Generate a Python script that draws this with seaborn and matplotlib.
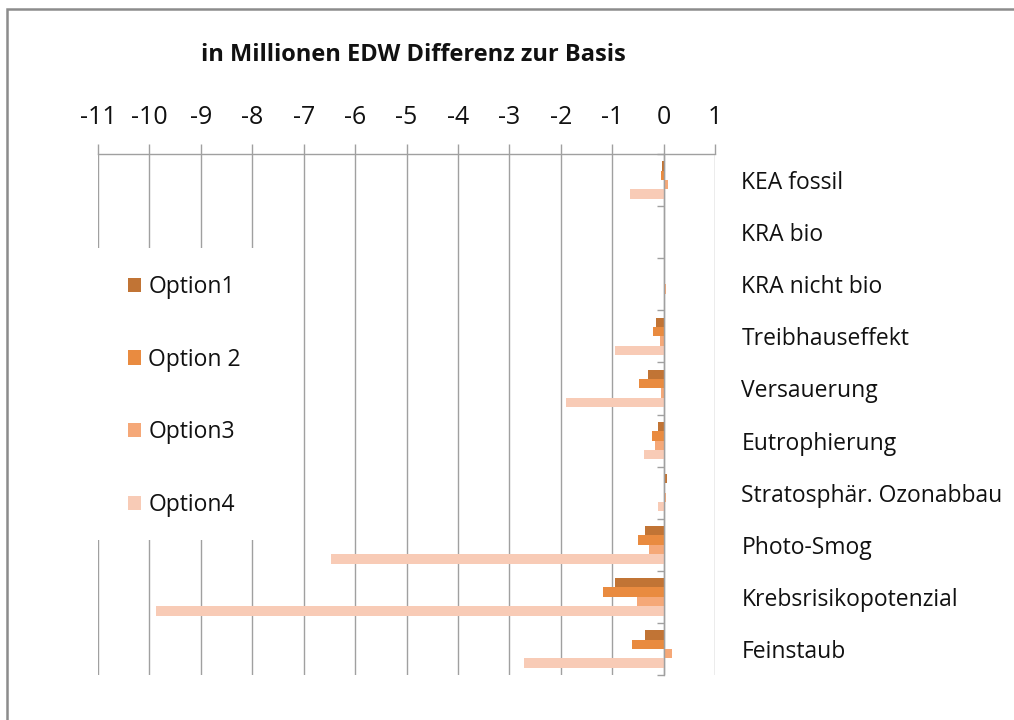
import numpy as np
import pandas as pd
import matplotlib
matplotlib.use("Agg")
import matplotlib.pyplot as plt
from matplotlib.patches import Rectangle
import seaborn as sns

categories = ["KEA fossil", "KRA bio", "KRA nicht bio", "Treibhauseffekt", "Versauerung",
              "Eutrophierung", "Stratosphär. Ozonabbau", "Photo-Smog",
              "Krebsrisikopotenzial", "Feinstaub"]
option_names = ["Option1", "Option 2", "Option3", "Option4"]
opt1 = [-0.03, 0.0, 0.0, -0.14, -0.31, -0.10, 0.06, -0.37, -0.94, -0.37]
opt2 = [-0.05, 0.0, 0.0, -0.21, -0.47, -0.23, 0.0, -0.50, -1.18, -0.61]
opt3 = [0.08, 0.0, 0.05, -0.07, -0.05, -0.17, 0.05, -0.29, -0.52, 0.16]
opt4 = [-0.65, 0.0, 0.0, -0.94, -1.89, -0.39, -0.10, -6.46, -9.87, -2.71]
x_ticks = list(range(-11, 2))
title_text = "in Millionen EDW Differenz zur Basis"
colors = ["#C17435", "#E98B40", "#F5A878", "#F8CBB6"]

df = pd.DataFrame({
    "Kategorie": categories * 4,
    "Wert": opt1 + opt2 + opt3 + opt4,
    "Option": sum([[n] * len(categories) for n in option_names], []),
})

sns.set_style("white")
plt.rcParams["font.family"] = ["Open Sans", "DejaVu Sans"]
plt.rcParams["axes.unicode_minus"] = False

fig = plt.figure(figsize=(10.14, 7.2), dpi=100)
ax = fig.add_axes([98 / 1014, 45 / 720, 617 / 1014, 521 / 720])

sns.barplot(data=df, x="Wert", y="Kategorie", hue="Option", order=categories,
            hue_order=option_names, palette=colors, orient="h", width=0.72,
            gap=0, errorbar=None, ax=ax, linewidth=0, saturation=1)

ax.set_xlim(-11, 1)
ax.set_ylim(9.5, -0.5)
ax.set_xlabel("")
ax.set_ylabel("")

grey = "#a0a0a0"
ax.set_axisbelow(True)
ax.grid(axis="x", color=grey, lw=1.0)
ax.grid(axis="y", visible=False)

ax.xaxis.set_ticks_position("top")
ax.set_xticks(x_ticks)
ax.set_xticklabels([str(t) for t in x_ticks])
ax.tick_params(axis="x", which="major", top=True, bottom=False, direction="out",
               length=7, width=1, color=grey, labelsize=18, pad=10,
               labelcolor="#111111")

for s in ["bottom", "right"]:
    ax.spines[s].set_visible(False)
ax.spines["top"].set_color(grey)
ax.spines["top"].set_linewidth(1.0)
ax.spines["left"].set_position(("data", 0))
ax.spines["left"].set_color(grey)
ax.spines["left"].set_linewidth(1.0)

ax.set_yticks(range(len(categories)))
ax.set_yticklabels(categories)
ax.set_yticks(np.arange(-0.5, len(categories), 1), minor=True)
ax.tick_params(axis="y", which="major", left=False, right=False, length=0,
               labelleft=False, labelright=True, labelsize=16.5, pad=19,
               labelcolor="#111111")
ax.tick_params(axis="y", which="minor", left=True, right=False, direction="out",
               length=5, width=1, color=grey)

# white legend area hiding the gridlines behind it
ax.add_patch(Rectangle((90 / 1014, 1 - 540 / 720), 202 / 1014, 292 / 720,
                       transform=fig.transFigure, facecolor="white",
                       edgecolor="none", zorder=0.8))

handles, labels = ax.get_legend_handles_labels()
leg = ax.legend(handles, labels, loc="upper left",
                bbox_to_anchor=(128 / 1014, 1 - 275 / 720), bbox_transform=fig.transFigure,
                frameon=False, fontsize=16.5, labelspacing=2.12, borderpad=0,
                borderaxespad=0, handlelength=0.58, handleheight=0.58,
                handletextpad=0.3)
for t in leg.get_texts():
    t.set_color("#111111")

fig.text(413 / 1014, 1 - 55 / 720, title_text, ha="center", va="center",
         fontsize=17, fontweight="bold", color="#111111")

fig.patches.append(Rectangle((7 / 1014, -0.1), 1.2, 1.1 - 9 / 720,
                             transform=fig.transFigure, fill=False,
                             edgecolor="#8c8c8c", linewidth=1.8))

fig.savefig("out.png", dpi=100)
